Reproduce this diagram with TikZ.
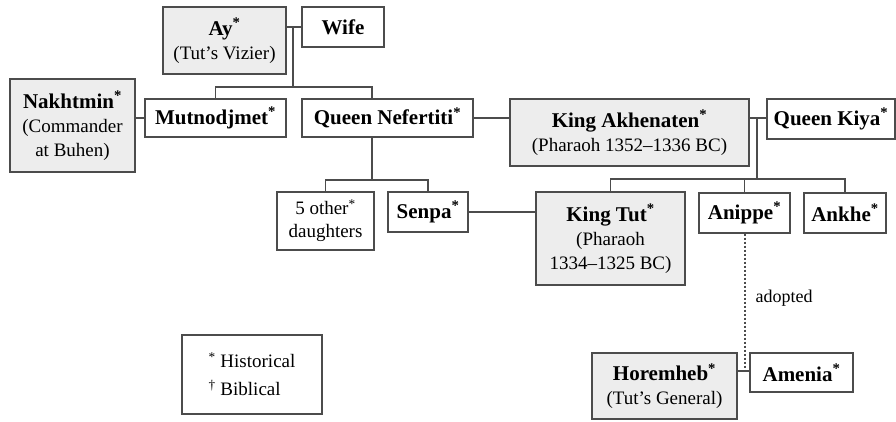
\documentclass[tikz,border=0pt]{standalone}
\usepackage{fontspec}
\setmainfont{Liberation Serif}
\usepackage{xcolor}
\definecolor{boxgray}{gray}{0.93}
\definecolor{linegray}{gray}{0.3}
\newcommand{\hst}{\textsuperscript{*}}
\newcommand{\who}[1]{{\fontsize{21}{24}\selectfont\bfseries #1\hst}}

\begin{document}
\begin{tikzpicture}[x=1pt, y=-1pt]
\tikzstyle{person}=[draw=linegray, line width=1.4pt, fill=white, inner sep=2pt, align=center, font=\fontsize{19}{24}\selectfont]
\tikzstyle{royal}=[person, fill=boxgray]
\tikzstyle{link}=[draw=linegray, line width=1.3pt]
\useasboundingbox (0,0) rectangle (896,421);

\node[royal, minimum width=123, minimum height=67] (ay) at (224.5,40.5) {\who{Ay}\\(Tut's Vizier)};
\node[person, minimum width=82, minimum height=40] (wife) at (343,27) {\textbf{\fontsize{21}{24}\selectfont Wife}};
\node[royal, minimum width=125, minimum height=93] (nakht) at (72.5,125.5) {\who{Nakhtmin}\\(Commander\\at Buhen)};
\node[person, minimum width=141, minimum height=38] (mutno) at (215.5,118) {\who{Mutnodjmet}};
\node[person, minimum width=171, minimum height=38] (nefer) at (387.5,118) {\who{Queen Nefertiti}};
\node[royal, minimum width=239, minimum height=67] (akhen) at (629.5,132.5) {\who{King Akhenaten}\\(Pharaoh 1352--1336 BC)};
\node[person, minimum width=128, minimum height=40] (kiya) at (831,119) {\who{Queen Kiya}};
\node[person, minimum width=97, minimum height=58, font=\fontsize{19}{23}\selectfont] (daught) at (325.5,221) {5 other\hst\\daughters};
\node[person, minimum width=80, minimum height=40] (senpa) at (428,212) {\who{Senpa}};
\node[royal, minimum width=149, minimum height=93] (tut) at (610.5,238.5) {\who{King Tut}\\(Pharaoh\\1334--1325 BC)};
\node[person, minimum width=91, minimum height=40] (anippe) at (744.5,213) {\who{Anippe}};
\node[person, minimum width=82, minimum height=40] (ankhe) at (845,213) {\who{Ankhe}};
\node[royal, minimum width=145, minimum height=66] (horem) at (664.5,386) {\who{Horemheb}\\(Tut's General)};
\node[person, minimum width=103, minimum height=39] (amenia) at (801.5,372.5) {\who{Amenia}};
\node[person, minimum width=140, minimum height=79, align=left, font=\fontsize{19}{28}\selectfont] (legend) at (252,374.5) {\hst\ Historical\\\textsuperscript{†}\ Biblical};

% marriages and children
\coordinate (aywed) at (293,27);
\coordinate (aykids) at (293,87);
\coordinate (nefin) at (372,87);
\coordinate (nefkids) at (372,180);
\coordinate (akwed) at (757,118);
\coordinate (akkids) at (757,179);
\coordinate (hawed) at (743,371);

\draw[link] (ay.east |- wife.west) -- (wife.west);
\draw[link] (aywed) -- (aykids);
\draw[link] (mutno.north) |- (nefin) -- (nefin |- nefer.north);
\draw[link] (mutno.west -| nakht.east) -- (mutno.west);
\draw[link] (nefer.east) -- (nefer.east -| akhen.west);
\draw[link] (akhen.east |- akwed) -- (kiya.west |- akwed);
\draw[link] (nefin |- nefer.south) -- (nefkids);
\draw[link] (daught.north) |- (nefkids) -| (senpa.north);
\draw[link] (senpa.east) -- (senpa.east -| tut.west);
\draw[link] (akwed) -- (akkids);
\draw[link] (tut.north) |- (akkids) -| (ankhe.north);
\draw[link] (anippe.north) -- (anippe.north |- akkids);
\draw[link] (horem.east |- hawed) -- (amenia.west |- hawed);
\draw[link, line width=2pt, dash pattern=on 2pt off 2pt] (anippe.south) -- (anippe.south |- hawed);
\node[anchor=west, font=\fontsize{18}{20}\selectfont] (adopt) at (752,298) {adopted};

\end{tikzpicture}
\end{document}
